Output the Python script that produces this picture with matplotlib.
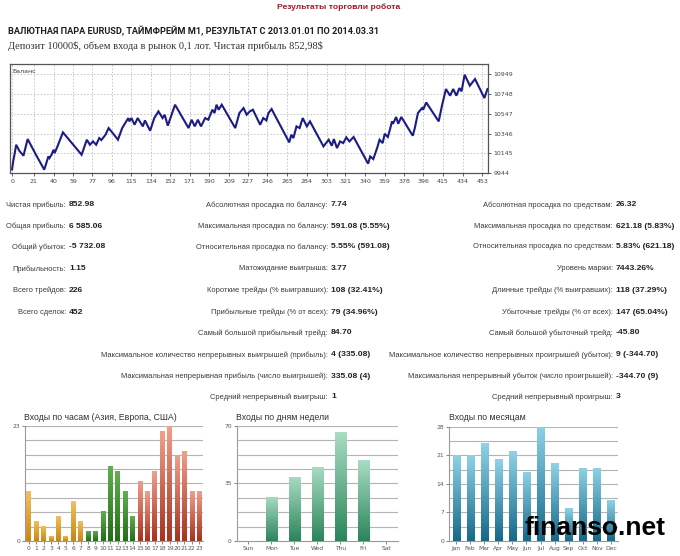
import matplotlib
matplotlib.use('Agg')
import matplotlib.pyplot as plt
import numpy as np
from matplotlib.colors import LinearSegmentedColormap

# ---------------- DATA ----------------
balance_x = [0, 1, 2, 4, 7, 11, 15, 23, 31, 35, 36, 38, 40, 41, 44, 49, 67, 72, 75, 78, 81, 84, 86, 90, 93,
             97, 102, 106, 108, 112, 113, 115, 118, 121, 126, 128, 133, 137, 141, 145, 147, 150, 157, 170,
             173, 176, 179, 182, 186, 189, 193, 195, 197, 199, 202, 215, 219, 223, 226, 229, 232, 239, 242,
             245, 247, 250, 267, 269, 271, 274, 277, 280, 284, 287, 300, 305, 308, 310, 313, 316, 319, 322,
             325, 329, 343, 345, 348, 352, 354, 357, 359, 362, 364, 366, 367, 370, 372, 375, 386, 388, 391,
             395, 396, 399, 411, 414, 418, 422, 425, 428, 431, 433, 436, 441, 446, 455, 458]
balance_y = [9980, 10060, 10113, 10232, 10170, 10120, 10290, 10130, 9978, 10113, 10096, 10130, 10181, 10147,
             10222, 10358, 10130, 10283, 10232, 10266, 10232, 10300, 10280, 10334, 10402, 10351, 10283, 10400,
             10436, 10504, 10470, 10504, 10436, 10504, 10419, 10480, 10375, 10504, 10572, 10504, 10538, 10426,
             10640, 10402, 10487, 10419, 10487, 10419, 10504, 10487, 10589, 10555, 10640, 10589, 10640, 10402,
             10555, 10606, 10538, 10572, 10589, 10436, 10504, 10480, 10555, 10596, 10256, 10334, 10300, 10419,
             10402, 10504, 10419, 10470, 10215, 10283, 10222, 10290, 10198, 10266, 10249, 10307, 10266, 10311,
             10039, 10113, 10086, 10209, 10283, 10249, 10344, 10311, 10385, 10470, 10446, 10515, 10446, 10515,
             10324, 10402, 10555, 10606, 10589, 10663, 10470, 10623, 10800, 10732, 10800, 10732, 10810, 10776,
             10946, 10834, 10902, 10708, 10800]
balance_xticks = [0, 21, 40, 59, 77, 96, 115, 134, 152, 171, 190, 209, 227, 246, 265, 284, 303, 321, 340,
                  359, 378, 396, 415, 434, 453]
balance_yticks = [9944, 10145, 10346, 10547, 10748, 10949]

hours = list(range(24))
hour_entries = [10, 4, 3, 1, 5, 1, 8, 4, 2, 2, 6, 15, 14, 10, 5, 12, 10, 14, 22, 23, 17, 18, 10, 10]
hour_session = ['asia'] * 8 + ['europe'] * 7 + ['usa'] * 9

weekdays = ['Sun', 'Mon', 'Tue', 'Wed', 'Thu', 'Fri', 'Sat']
weekday_entries = [0, 27, 39, 45, 66, 49, 0]

months = ['Jan', 'Feb', 'Mar', 'Apr', 'May', 'Jun', 'Jul', 'Aug', 'Sep', 'Oct', 'Nov', 'Dec']
month_entries = [21, 21, 24, 20, 22, 17, 28, 19, 8, 18, 18, 10]

stats_left = [("Чистая прибыль:", "852.98"), ("Общая прибыль:", "6 585.06"), ("Общий убыток:", "-5 732.08"),
              ("Прибыльность:", "1.15"), ("Всего трейдов:", "226"), ("Всего сделок:", "452")]
stats_mid = [("Абсолютная просадка по балансу:", "7.74"),
             ("Максимальная просадка по балансу:", "591.08 (5.55%)"),
             ("Относительная просадка по балансу:", "5.55% (591.08)"),
             ("Матожидание выигрыша:", "3.77"),
             ("Короткие трейды (% выигравших):", "108 (32.41%)"),
             ("Прибыльные трейды (% от всех):", "79 (34.96%)"),
             ("Самый большой прибыльный трейд:", "84.70"),
             ("Максимальное количество непрерывных выигрышей (прибыль):", "4 (335.08)"),
             ("Максимальная непрерывная прибыль (число выигрышей):", "335.08 (4)"),
             ("Средний непрерывный выигрыш:", "1")]
stats_right = [("Абсолютная просадка по средствам:", "26.32"),
               ("Максимальная просадка по средствам:", "621.18 (5.83%)"),
               ("Относительная просадка по средствам:", "5.83% (621.18)"),
               ("Уровень маржи:", "7443.26%"),
               ("Длинные трейды (% выигравших):", "118 (37.29%)"),
               ("Убыточные трейды (% от всех):", "147 (65.04%)"),
               ("Самый большой убыточный трейд:", "-45.80"),
               ("Максимальное количество непрерывных проигрышей (убыток):", "9 (-344.70)"),
               ("Максимальная непрерывный убыток (число проигрышей):", "-344.70 (9)"),
               ("Средний непрерывный проигрыш:", "3")]

# ---------------- FIGURE ----------------
W, H = 680, 556
fig = plt.figure(figsize=(W / 100, H / 100), dpi=100)
fig.patch.set_facecolor('white')
SANS = ['Liberation Sans', 'DejaVu Sans']


def fx(px):
    return px / W


def fy(py):
    return 1 - py / H


def add_axes_px(left, top, right, bottom):
    return fig.add_axes([fx(left), fy(bottom), (right - left) / W, (bottom - top) / H])


# header texts
fig.text(fx(400), fy(7), "Результаты торговли робота", ha='right', va='center', color='#a3172c',
         fontsize=6.1, fontweight='bold', family=SANS)
fig.text(fx(8), fy(31), "ВАЛЮТНАЯ ПАРА EURUSD, ТАЙМФРЕЙМ M1, РЕЗУЛЬТАТ С 2013.01.01 ПО 2014.03.31",
         ha='left', va='center', color='#1e1e1e', fontsize=6.55, fontweight='bold',
         family=['Roboto', 'Liberation Sans'])
fig.text(fx(8), fy(46), "Депозит 10000\\$, объем входа в рынок 0,1 лот. Чистая прибыль 852,98\\$",
         ha='left', va='center', color='#333333', fontsize=7.5, family=['Liberation Serif', 'DejaVu Serif'])

# ---------------- BALANCE CHART ----------------
axb = add_axes_px(10, 64, 488, 173)
axb.plot(balance_x, balance_y, color='#1c1c86', lw=1.5, solid_joinstyle='miter')
axb.set_xlim(-2, 458.5)
axb.set_ylim(9944, 11055)
axb.set_xticks(balance_xticks)
axb.set_yticks(balance_yticks)
axb.set_xticklabels([str(t) for t in balance_xticks])
axb.set_yticklabels([str(t) for t in balance_yticks])
axb.yaxis.tick_right()
axb.tick_params(axis='both', labelsize=4.5, length=2.5, width=0.6, colors='#444444', pad=1.5)
axb.grid(True, color='#c0c0c0', lw=0.6, ls=(0, (2, 2)))
for s in axb.spines.values():
    s.set_color('#555555')
    s.set_linewidth(0.9)
axb.text(0.005, 0.95, "Баланс", transform=axb.transAxes, fontsize=4.5, va='top', ha='left', color='#333333')

# ---------------- STATS ----------------
row_y = [205, 226, 247, 269, 290, 312, 333, 355, 376, 397]
label_kw = dict(ha='right', va='center', fontsize=5.4, color='#3a3a3a', family=SANS)
value_kw = dict(ha='left', va='center', fontsize=6.1, color='#222222', fontweight='bold', family=SANS)
for col, xr in ((stats_left, 66), (stats_mid, 328), (stats_right, 613)):
    for (lab, val), yy in zip(col, row_y):
        fig.text(fx(xr), fy(yy), lab, **label_kw)
        fig.text(fx(xr + 3), fy(yy), val, **value_kw)


# ---------------- BOTTOM CHARTS ----------------
def gradient_fill(ax, bars, top_color, bottom_color):
    cmap = LinearSegmentedColormap.from_list('g', [bottom_color, top_color])
    grad = np.linspace(0, 1, 64).reshape(-1, 1)
    for b in bars:
        x0, w, h = b.get_x(), b.get_width(), b.get_height()
        if h <= 0:
            continue
        im = ax.imshow(grad, extent=[x0, x0 + w, 0, h], origin='lower', cmap=cmap,
                       aspect='auto', zorder=3, interpolation='bilinear')
        im.set_clip_path(b)


def style_small(ax, ymax, nlines, yticks, xlabels):
    ax.set_xlim(-0.5, len(xlabels) - 0.5)
    ax.set_ylim(0, ymax)
    for v in np.linspace(0, ymax, nlines + 1)[1:]:
        ax.axhline(v, color='#b4b4b4', lw=0.8, zorder=1)
    ax.set_yticks(yticks)
    ax.set_yticklabels([str(t) for t in yticks])
    ax.set_xticks(range(len(xlabels)))
    ax.set_xticklabels(xlabels)
    ax.tick_params(axis='both', labelsize=4.3, length=2, width=0.5, colors='#555555', pad=1.5)
    for s in ('top', 'right'):
        ax.spines[s].set_visible(False)
    for s in ('left', 'bottom'):
        ax.spines[s].set_color('#9a9a9a')
        ax.spines[s].set_linewidth(0.8)
    ax.set_facecolor('white')


TITLE_KW = dict(ha='left', va='center', fontsize=6.3, color='#333333', family=SANS)

# hours
axh = add_axes_px(25, 425.7, 203, 541)
session_colors = {'asia': ('#f2c260', '#c98712'), 'europe': ('#62b052', '#236e17'), 'usa': ('#f0a08c', '#a8321f')}
for sess, (ctop, cbot) in session_colors.items():
    xs = [h for h, s in zip(hours, hour_session) if s == sess]
    vs = [v for v, s in zip(hour_entries, hour_session) if s == sess]
    bars = axh.bar(xs, vs, width=0.62, color=cbot, edgecolor='none', zorder=2)
    gradient_fill(axh, bars, ctop, cbot)
style_small(axh, 23, 8, [0, 23], [str(h) for h in hours])
fig.text(fx(24), fy(418), "Входы по часам (Азия, Европа, США)", **TITLE_KW)

# weekdays
axw = add_axes_px(236.7, 425.7, 398, 541)
bars = axw.bar(range(len(weekdays)), weekday_entries, width=0.5, color='#2e8a5c',
               edgecolor='#bfead2', linewidth=0.6, zorder=2)
gradient_fill(axw, bars, '#a9dcc3', '#2b855a')
style_small(axw, 70, 8, [0, 35, 70], weekdays)
fig.text(fx(236), fy(418), "Входы по дням недели", **TITLE_KW)

# months
axm = add_axes_px(449, 426.7, 618, 541)
bars = axm.bar(range(len(months)), month_entries, width=0.5, color='#1a6e8c', edgecolor='none', zorder=2)
gradient_fill(axm, bars, '#8ed2e6', '#16698a')
style_small(axm, 28, 8, [0, 7, 14, 21, 28], months)
fig.text(fx(449), fy(418), "Входы по месяцам", **TITLE_KW)

# watermark
fig.text(fx(595), fy(528), "finanso.net", ha='center', va='center', fontsize=19, fontweight='bold',
         color='black', family=SANS)

fig.savefig('out.png', dpi=100, facecolor='white')
